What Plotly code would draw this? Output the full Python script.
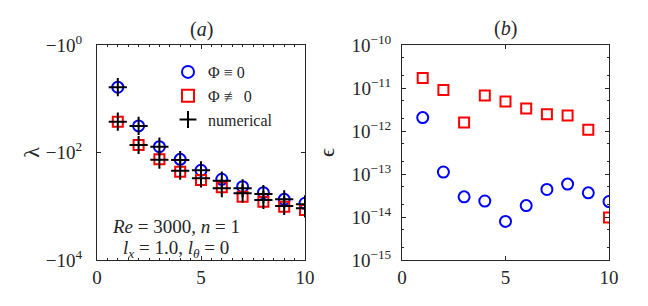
import plotly.graph_objects as go

# data
n_modes = [1, 2, 3, 4, 5, 6, 7, 8, 9, 10]
# |lambda| for Phi == 0 (analytic), Phi != 0 (analytic)
lam_phi0 = [6.1, 32, 78, 134, 214, 315, 433, 560, 743, 881]
lam_phi1 = [26.7, 72.5, 134, 228, 325, 444, 664, 823, 1018, 1175]
# numerical
lam_num_a = [6.1, 32, 78, 138, 214, 335, 463, 592, 743, 920]
lam_num_b = [26.7, 72.5, 136, 218, 302, 463, 574, 765, 988, 1092]
# errors
eps_phi0 = [2.05e-12, 1.11e-13, 2.94e-14, 2.35e-14, 7.9e-15, 1.84e-14, 4.37e-14, 5.83e-14, 3.65e-14, 2.29e-14]
eps_phi1 = [1.71e-11, 8.97e-12, 1.57e-12, 6.73e-12, 4.87e-12, 3.34e-12, 2.46e-12, 2.29e-12, 1.07e-12, 9.8e-15]

ytick_a_vals = [1, 100, 10000]
ytick_a_text = ["\u221210<sup>0</sup>", "\u221210<sup>2</sup>", "\u221210<sup>4</sup>"]
ytick_b_vals = [1e-15, 1e-14, 1e-13, 1e-12, 1e-11, 1e-10]
ytick_b_text = ["10<sup>\u221215</sup>", "10<sup>\u221214</sup>", "10<sup>\u221213</sup>",
                "10<sup>\u221212</sup>", "10<sup>\u221211</sup>", "10<sup>\u221210</sup>"]
xticks = [0, 5, 10]

FONT = "Liberation Serif"
BLUE = "#0000ff"
RED = "#ff0000"
INK = "#262626"

fig = go.Figure()

circ = dict(symbol="circle-open", size=11, color=BLUE, line=dict(width=2, color=BLUE))
sq = dict(symbol="square-open", size=10, color=RED, line=dict(width=2, color=RED))
cross = dict(symbol="cross-thin-open", size=13, color="black", line=dict(width=2, color="black"))

fig.add_trace(go.Scatter(x=n_modes, y=lam_phi0, mode="markers", marker=circ,
                         name="\u03a6 \u2261 0", xaxis="x", yaxis="y"))
fig.add_trace(go.Scatter(x=n_modes, y=lam_phi1, mode="markers", marker=sq,
                         name="\u03a6 \u2262 0", xaxis="x", yaxis="y"))
fig.add_trace(go.Scatter(x=n_modes, y=lam_num_a, mode="markers", marker=cross,
                         name="numerical", xaxis="x", yaxis="y"))
fig.add_trace(go.Scatter(x=n_modes, y=lam_num_b, mode="markers", marker=cross,
                         name="numerical", showlegend=False, xaxis="x", yaxis="y"))

fig.add_trace(go.Scatter(x=n_modes, y=eps_phi0, mode="markers", marker=circ,
                         showlegend=False, xaxis="x2", yaxis="y2"))
fig.add_trace(go.Scatter(x=n_modes, y=eps_phi1, mode="markers", marker=sq,
                         showlegend=False, xaxis="x2", yaxis="y2"))

axis_common = dict(showline=True, linecolor=INK, linewidth=1, mirror="ticks",
                   ticks="inside", ticklen=4, tickcolor=INK, showgrid=False,
                   zeroline=False, automargin=False,
                   tickfont=dict(family=FONT, size=19, color=INK))

fig.update_layout(
    width=648, height=306,
    margin=dict(l=0, r=0, t=0, b=0, autoexpand=False),
    paper_bgcolor="white", plot_bgcolor="white",
    font=dict(family=FONT, size=19, color=INK),
    xaxis=dict(domain=[97/648, 305/648], range=[0, 10], tickvals=xticks,
               minor=dict(ticks="inside", ticklen=2, dtick=0.5, tickcolor=INK),
               **axis_common),
    yaxis=dict(domain=[1-260/306, 1-45/306], type="log", range=[4, 0],
               tickvals=ytick_a_vals, ticktext=ytick_a_text, ticklabelstandoff=10,
               title=dict(text="\u03bb", font=dict(family=FONT, size=22), standoff=0),
               **axis_common),
    xaxis2=dict(domain=[402/648, 609/648], range=[0, 10], tickvals=xticks,
                anchor="y2", **axis_common),
    yaxis2=dict(domain=[1-260/306, 1-45/306], type="log", range=[-15, -10],
                tickvals=ytick_b_vals, ticktext=ytick_b_text, anchor="x2",
                ticklabelstandoff=6,
                minor=dict(ticks="inside", ticklen=2, tickcolor=INK),
                title=dict(text="\u03f5", font=dict(family=FONT, size=22), standoff=10),
                **axis_common),
    legend=dict(x=168/648, y=1-55/306, xanchor="left", yanchor="top",
                bgcolor="rgba(0,0,0,0)", font=dict(family=FONT, size=16, color=INK),
                itemwidth=30, tracegroupgap=0, itemsizing="constant"),
    showlegend=True,
    annotations=[
        dict(text="(<i>a</i>)", x=201/648, y=1-30/306, xref="paper", yref="paper",
             xanchor="center", yanchor="middle",
             showarrow=False, font=dict(family=FONT, size=20)),
        dict(text="(<i>b</i>)", x=505/648, y=1-28/306, xref="paper", yref="paper",
             xanchor="center", yanchor="middle",
             showarrow=False, font=dict(family=FONT, size=20)),
        dict(text="<i>Re</i> = 3000, <i>n</i> = 1",
             x=176/648, y=1-226/306, xref="paper", yref="paper", showarrow=False,
             xanchor="center", yanchor="middle", font=dict(family=FONT, size=19)),
        dict(text="<i>l<sub>x</sub></i> = 1.0, <i>l<sub>\u03b8</sub></i> = 0",
             x=176/648, y=1-249/306, xref="paper", yref="paper", showarrow=False,
             xanchor="center", yanchor="middle", font=dict(family=FONT, size=19)),
    ],
)

fig.write_html("out.html", config={"displayModeBar": False},
               post_script="document.body.style.margin='0';")
